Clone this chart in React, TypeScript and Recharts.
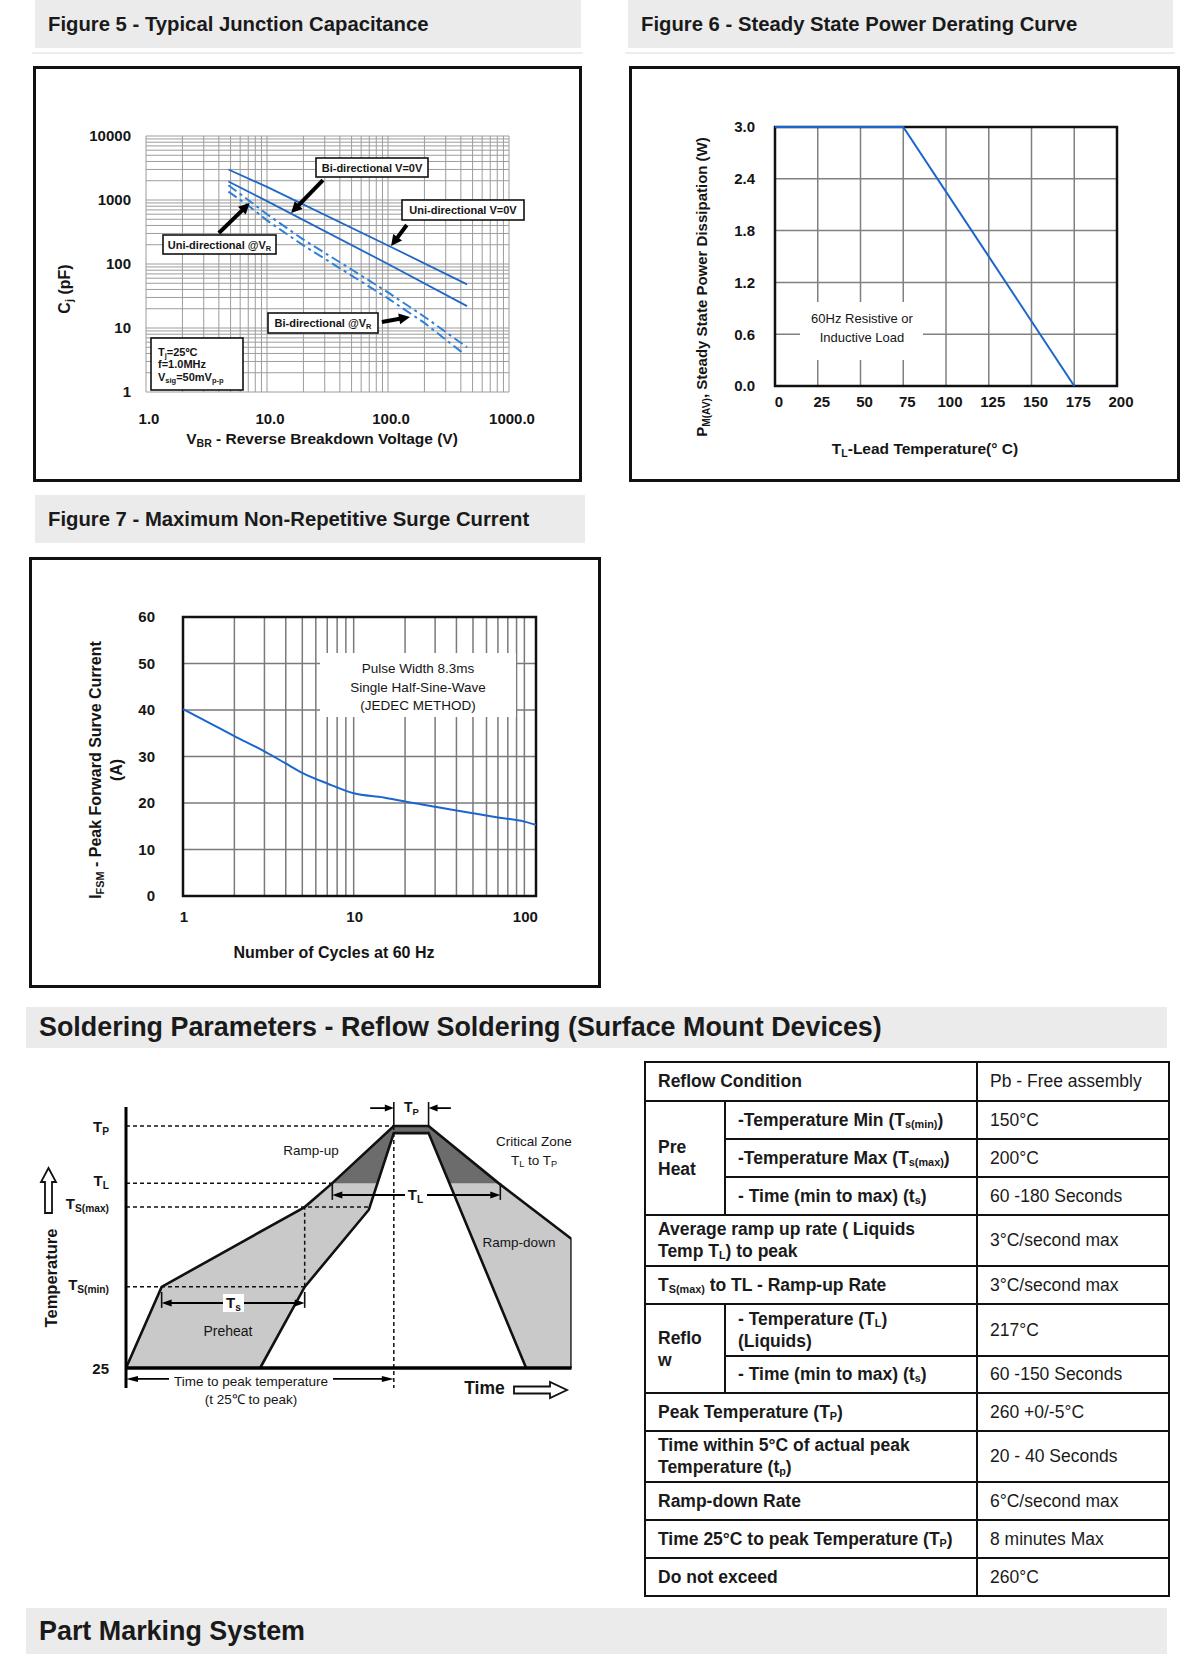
import React from 'react';
import {
  LineChart, Line, XAxis, YAxis, CartesianGrid, ReferenceLine, ReferenceArea,
  ComposedChart, Area,
} from 'recharts';

const FONT = '"Liberation Sans", Arial, Helvetica, sans-serif';
const INK = '#151515';

/* ---------------- Figure 5 : junction capacitance (log-log) ---------------- */
const fig5XTicks = [1, 2, 3, 4, 5, 6, 7, 8, 9, 10, 20, 30, 40, 50, 60, 70, 80, 90, 100, 200, 300, 400, 500, 600, 700, 800, 900, 1000];
const fig5XLabels: Record<number, string> = { 1: '1.0', 10: '10.0', 100: '100.0', 1000: '1000.0' };
const fig5YTicks = [1, 2, 3, 4, 5, 6, 7, 8, 9, 10, 20, 30, 40, 50, 60, 70, 80, 90, 100, 200, 300, 400, 500, 600, 700, 800, 900, 1000, 2000, 3000, 4000, 5000, 6000, 7000, 8000, 9000, 10000];
const fig5YLabels: Record<number, string> = { 1: '1', 10: '10', 100: '100', 1000: '1000', 10000: '10000' };
const uniZeroV = [{ v: 4.8, c: 3000 }, { v: 10, c: 1600 }, { v: 100, c: 195 }, { v: 450, c: 48 }];
const biZeroV = [{ v: 4.8, c: 1950 }, { v: 10, c: 960 }, { v: 100, c: 100 }, { v: 450, c: 22 }];
const uniAtVR = [{ v: 4.8, c: 1700 }, { v: 7, c: 1000 }, { v: 10, c: 600 }, { v: 20, c: 240 }, { v: 50, c: 82 }, { v: 100, c: 36 }, { v: 200, c: 15 }, { v: 450, c: 5 }];
const biAtVR = [{ v: 4.8, c: 1350 }, { v: 7, c: 820 }, { v: 10, c: 480 }, { v: 20, c: 195 }, { v: 50, c: 66 }, { v: 100, c: 29 }, { v: 200, c: 12 }, { v: 420, c: 4 }];
const fig5Arrows = [
  { from: { x: 29, y: 2050 }, to: { x: 15.8, y: 626 } },
  { from: { x: 143, y: 407 }, to: { x: 106, y: 191 } },
  { from: { x: 4.0, y: 305 }, to: { x: 7.2, y: 898 } },
  { from: { x: 89, y: 12.4 }, to: { x: 152, y: 14.9 } },
];

/* ---------------- Figure 6 : power derating ---------------- */
const fig6Temp = [0, 75, 175];
const fig6Power = [3.0, 3.0, 0];
const fig6XTicks = [0, 25, 50, 75, 100, 125, 150, 175, 200];
const fig6YTicks = [0, 0.6, 1.2, 1.8, 2.4, 3.0];
const fig6Data = fig6Temp.map((t, i) => ({ temp: t, power: fig6Power[i] }));

/* ---------------- Figure 7 : surge current ---------------- */
const fig7Cycles = [1, 1.5, 2, 3, 4, 5, 7, 10, 15, 20, 30, 50, 70, 100, 117];
const fig7Ifsm = [40.2, 36.8, 34.4, 31.1, 28.5, 26.5, 24.2, 22.1, 21.2, 20.3, 19.2, 17.8, 16.9, 16.0, 15.3];
const fig7XTicks = [1, 2, 3, 4, 5, 6, 7, 8, 9, 10, 20, 30, 40, 50, 60, 70, 80, 90, 100];
const fig7XLabels: Record<number, string> = { 1: '1', 10: '10', 100: '100' };
const fig7YTicks = [0, 10, 20, 30, 40, 50, 60];
const fig7Data = fig7Cycles.map((c, i) => ({ n: c, a: fig7Ifsm[i] }));

/* ---------------- Reflow profile (schematic units: time 0-100, level 0-100) ---------------- */
const LV_TP = 91;
const LV_TL = 69.5;
const LV_TSMAX = 60.5;
const LV_TSMIN = 30.5;
const outerProfile = [
  { t: 0, y: 0 }, { t: 8, y: LV_TSMIN }, { t: 40.1, y: LV_TSMAX }, { t: 46.3, y: LV_TL },
  { t: 60.1, y: LV_TP }, { t: 67.9, y: LV_TP }, { t: 83.6, y: LV_TL }, { t: 100, y: 48.5 }, { t: 100, y: 0 },
];
const innerProfile = [
  { t: 30.1, y: 0 }, { t: 40.1, y: LV_TSMIN }, { t: 54.5, y: 59.5 }, { t: 60.1, y: 88.3 },
  { t: 67.9, y: 88.3 }, { t: 89.8, y: 0 },
];
const criticalZone = [
  { t: 46.3, y: LV_TL }, { t: 60.1, y: LV_TP }, { t: 67.9, y: LV_TP }, { t: 83.6, y: LV_TL },
];
const dashedLevels = [
  [{ x: 0, y: LV_TP }, { x: 60.1, y: LV_TP }],
  [{ x: 0, y: LV_TL }, { x: 46.3, y: LV_TL }],
  [{ x: 0, y: LV_TSMAX }, { x: 54.6, y: LV_TSMAX }],
  [{ x: 0, y: LV_TSMIN }, { x: 40.1, y: LV_TSMIN }],
  [{ x: 40.1, y: LV_TSMIN }, { x: 40.1, y: LV_TSMAX }],
  [{ x: 60.1, y: LV_TP }, { x: 60.1, y: -7.5 }],
];
const endTicks = [
  [{ x: 8, y: 22.6 }, { x: 8, y: 28.6 }],
  [{ x: 40.1, y: 22.6 }, { x: 40.1, y: 28.6 }],
  [{ x: 46.3, y: 63.2 }, { x: 46.3, y: LV_TL }],
  [{ x: 84, y: 63.2 }, { x: 84, y: LV_TL }],
  [{ x: 60.1, y: LV_TP }, { x: 60.1, y: 100 }],
  [{ x: 67.9, y: LV_TP }, { x: 67.9, y: 100 }],
];

/* ---------------- Table ---------------- */
type Cell = { html: React.ReactNode; bold?: boolean; colSpan?: number; rowSpan?: number };
const S = (s: string) => <sub style={{ fontSize: '0.62em', verticalAlign: '-0.2em', lineHeight: 0 }}>{s}</sub>;
const tableRows: Cell[][] = [
  [{ html: 'Reflow Condition', bold: true, colSpan: 2 }, { html: 'Pb - Free assembly' }],
  [{ html: <>Pre<br />Heat</>, bold: true, rowSpan: 3 }, { html: <>-Temperature Min (T{S('s(min)')})</>, bold: true }, { html: '150°C' }],
  [{ html: <>-Temperature Max (T{S('s(max)')})</>, bold: true }, { html: '200°C' }],
  [{ html: <>- Time (min to max) (t{S('s')})</>, bold: true }, { html: '60 -180 Seconds' }],
  [{ html: <>Average ramp up rate ( Liquids<br />Temp T{S('L')}) to peak</>, bold: true, colSpan: 2 }, { html: '3°C/second max' }],
  [{ html: <>T{S('S(max)')} to TL - Ramp-up Rate</>, bold: true, colSpan: 2 }, { html: '3°C/second max' }],
  [{ html: <>Reflo<br />w</>, bold: true, rowSpan: 2 }, { html: <>- Temperature (T{S('L')})<br />(Liquids)</>, bold: true }, { html: '217°C' }],
  [{ html: <>- Time (min to max) (t{S('s')})</>, bold: true }, { html: '60 -150 Seconds' }],
  [{ html: <>Peak Temperature (T{S('P')})</>, bold: true, colSpan: 2 }, { html: '260 +0/-5°C' }],
  [{ html: <>Time within 5°C of actual peak<br />Temperature (t{S('p')})</>, bold: true, colSpan: 2 }, { html: '20 - 40 Seconds' }],
  [{ html: 'Ramp-down Rate', bold: true, colSpan: 2 }, { html: '6°C/second max' }],
  [{ html: <>Time 25°C to peak Temperature (T{S('P')})</>, bold: true, colSpan: 2 }, { html: '8 minutes Max' }],
  [{ html: 'Do not exceed', bold: true, colSpan: 2 }, { html: '260°C' }],
];
const ROW_H = [38.5, 38, 38, 38, 51.5, 38, 51.5, 37.5, 37.5, 51.5, 37.5, 38, 38.5];

/* ---------------- helpers ---------------- */
function arrowShape(o: { start?: boolean; end?: boolean; w?: number; hl?: number; hw?: number; color?: string }) {
  const { start = false, end = true, w = 2, hl = 10, hw = 8, color = '#000' } = o;
  return (p: any) => {
    const x1 = +p.x1, y1 = +p.y1, x2 = +p.x2, y2 = +p.y2;
    const dx = x2 - x1, dy = y2 - y1;
    const L = Math.hypot(dx, dy) || 1;
    const ux = dx / L, uy = dy / L, nx = -uy, ny = ux;
    const head = (tx: number, ty: number, ex: number, ey: number) => {
      const bx = tx - ex * hl, by = ty - ey * hl;
      return `${tx},${ty} ${bx + nx * hw / 2},${by + ny * hw / 2} ${bx - nx * hw / 2},${by - ny * hw / 2}`;
    };
    const sx = start ? x1 + ux * hl * 0.7 : x1, sy = start ? y1 + uy * hl * 0.7 : y1;
    const ex = end ? x2 - ux * hl * 0.7 : x2, ey = end ? y2 - uy * hl * 0.7 : y2;
    return (
      <g>
        <line x1={sx} y1={sy} x2={ex} y2={ey} stroke={color} strokeWidth={w} />
        {end && <polygon points={head(x2, y2, ux, uy)} fill={color} />}
        {start && <polygon points={head(x1, y1, -ux, -uy)} fill={color} />}
      </g>
    );
  };
}

type Part = string | { sub: string };
function RT(props: { x: number; y: number; size: number; bold?: boolean; anchor?: string; rotate?: number; parts: Part[]; fill?: string }) {
  const { x, y, size, bold, anchor = 'middle', rotate, parts, fill = INK } = props;
  const subSize = size * 0.68;
  const shift = size * 0.3;
  let lowered = false;
  const kids = parts.map((p, i) => {
    if (typeof p === 'string') {
      const dy = lowered ? -shift : 0;
      lowered = false;
      return <tspan key={i} fontSize={size} dy={dy}>{p}</tspan>;
    }
    const dy = lowered ? 0 : shift;
    lowered = true;
    return <tspan key={i} fontSize={subSize} dy={dy}>{p.sub}</tspan>;
  });
  return (
    <text x={x} y={y} fontSize={size} fontWeight={bold ? 'bold' : 'normal'} textAnchor={anchor as any}
      dominantBaseline="central" fill={fill} fontFamily={FONT}
      transform={rotate ? `rotate(${rotate} ${x} ${y})` : undefined}>{kids}</text>
  );
}

function Header(p: { left: number; top: number; width: number; height: number; size: number; pad: number; text: string }) {
  return (
    <div style={{
      position: 'absolute', left: p.left, top: p.top, width: p.width, height: p.height, background: '#ebebeb',
      boxSizing: 'border-box', paddingLeft: p.pad, display: 'flex', alignItems: 'center', fontFamily: FONT,
      fontWeight: 'bold', fontSize: p.size, color: '#1a1a1a', whiteSpace: 'nowrap',
    }}>{p.text}</div>
  );
}

const tickStyle = (size: number, dx = 0) => ({ fontSize: size, fontWeight: 700, fill: INK, fontFamily: FONT, dx });

function Box(p: { left: number; top: number; width: number; height: number; bw: number }) {
  return <div style={{ position: 'absolute', left: p.left, top: p.top, width: p.width, height: p.height, border: `${p.bw}px solid #111`, boxSizing: 'border-box' }} />;
}

function LabelBox(p: { x: number; y: number; w: number; h: number; parts: Part[] }) {
  return (
    <g>
      <rect x={p.x} y={p.y} width={p.w} height={p.h} fill="#fff" stroke="#111" strokeWidth={1.6} />
      <RT x={p.x + p.w / 2} y={p.y + p.h / 2} size={11} bold parts={p.parts} />
    </g>
  );
}

export default function App() {
  return (
    <div style={{ position: 'absolute', left: 0, top: 0, width: 1200, height: 1675, background: '#fff', fontFamily: FONT }}>
      {/* headers */}
      <Header left={35} top={0} width={546} height={48} size={20.3} pad={13} text="Figure 5 - Typical Junction Capacitance" />
      <div style={{ position: 'absolute', left: 32, top: 52, width: 551, height: 2, background: '#ededed' }} />
      <Header left={628} top={0} width={545} height={48} size={20.3} pad={13} text="Figure 6 - Steady State Power Derating Curve" />
      <div style={{ position: 'absolute', left: 625, top: 52, width: 550, height: 2, background: '#ededed' }} />
      <Header left={35} top={495} width={550} height={48} size={20.3} pad={13} text="Figure 7 - Maximum Non-Repetitive Surge Current" />
      <Header left={26} top={1007} width={1141} height={41} size={26.9} pad={13} text="Soldering Parameters - Reflow Soldering (Surface Mount Devices)" />
      <Header left={26} top={1608} width={1141} height={46} size={26.9} pad={13} text="Part Marking System" />

      {/* frames */}
      <Box left={33} top={66} width={549} height={416} bw={3} />
      <Box left={629} top={66} width={551} height={416} bw={3} />
      <Box left={29} top={557} width={572} height={431} bw={3.5} />

      {/* Figure 5 */}
      <div style={{ position: 'absolute', left: 33, top: 66 }}>
        <LineChart width={549} height={416} margin={{ top: 70, right: 73, bottom: 60, left: 0 }}>
          <CartesianGrid stroke="#9c9c9c" strokeWidth={1} />
          <XAxis dataKey="v" type="number" scale="log" domain={[1, 1000]} ticks={fig5XTicks} interval={0}
            tickFormatter={(v: number) => fig5XLabels[v] ?? ''} tickLine={false} axisLine={false} tickSize={0}
            tickMargin={21} height={30} tick={tickStyle(15, 3)} allowDataOverflow />
          <YAxis type="number" scale="log" domain={[1, 10000]} ticks={fig5YTicks} interval={0}
            tickFormatter={(v: number) => fig5YLabels[v] ?? ''} tickLine={false} axisLine={false} tickSize={0}
            tickMargin={15} width={113} tick={tickStyle(15)} allowDataOverflow />
          <Line data={uniZeroV} dataKey="c" type="linear" stroke="#2067c6" strokeWidth={1.8} dot={false} isAnimationActive={false} />
          <Line data={biZeroV} dataKey="c" type="linear" stroke="#2067c6" strokeWidth={1.8} dot={false} isAnimationActive={false} />
          <Line data={uniAtVR} dataKey="c" type="linear" stroke="#2f80d8" strokeWidth={2} strokeDasharray="10 4 3 4" dot={false} isAnimationActive={false} />
          <Line data={biAtVR} dataKey="c" type="linear" stroke="#2f80d8" strokeWidth={2} strokeDasharray="10 4 3 4" dot={false} isAnimationActive={false} />
          {fig5Arrows.map((a, i) => (
            <ReferenceLine key={i} segment={[a.from, a.to]} ifOverflow="visible"
              shape={arrowShape({ end: true, w: 4, hl: 11, hw: 11 })} />
          ))}
        </LineChart>
      </div>

      {/* Figure 6 */}
      <div style={{ position: 'absolute', left: 629, top: 66 }}>
        <LineChart width={551} height={416} data={fig6Data} margin={{ top: 61, right: 63, bottom: 66, left: 0 }}>
          <CartesianGrid stroke="#808080" strokeWidth={1.5} />
          <XAxis dataKey="temp" type="number" domain={[0, 200]} ticks={fig6XTicks} interval={0} tickLine={false}
            axisLine={false} tickSize={0} tickMargin={10} height={30} tick={tickStyle(15, 4)} />
          <YAxis type="number" domain={[0, 3]} ticks={fig6YTicks} interval={0} tickFormatter={(v: number) => v.toFixed(1)}
            tickLine={false} axisLine={false} tickSize={0} tickMargin={20} width={146} tick={tickStyle(15)} />
          <ReferenceArea x1={0} x2={200} y1={0} y2={3} fill="none" fillOpacity={0} stroke="#111" strokeWidth={2.5} ifOverflow="visible" />
          <Line dataKey="power" type="linear" stroke="#1b66cc" strokeWidth={2} dot={false} isAnimationActive={false} />
        </LineChart>
      </div>

      {/* Figure 7 */}
      <div style={{ position: 'absolute', left: 29, top: 557 }}>
        <LineChart width={572} height={431} data={fig7Data} margin={{ top: 60, right: 65, bottom: 62, left: 0 }}>
          <CartesianGrid stroke="#7a7a7a" strokeWidth={1.5} />
          <XAxis dataKey="n" type="number" scale="log" domain={[1, 117]} ticks={fig7XTicks} interval={0}
            tickFormatter={(v: number) => fig7XLabels[v] ?? ''} tickLine={false} axisLine={false} tickSize={0}
            tickMargin={15} height={30} tick={tickStyle(15, 1)} allowDataOverflow />
          <YAxis type="number" domain={[0, 60]} ticks={fig7YTicks} interval={0} tickLine={false} axisLine={false}
            tickSize={0} tickMargin={28} width={154} tick={tickStyle(15)} />
          <ReferenceArea x1={1} x2={117} y1={0} y2={60} fill="none" fillOpacity={0} stroke="#111" strokeWidth={2.5} ifOverflow="visible" />
          <Line dataKey="a" type="monotone" stroke="#1a66d0" strokeWidth={2} dot={false} isAnimationActive={false} />
        </LineChart>
      </div>

      {/* Reflow profile */}
      <div style={{ position: 'absolute', left: 26, top: 1060 }}>
        <ComposedChart width={580} height={360} margin={{ top: 42, right: 34.4, bottom: 25.4, left: 100 }}>
          <XAxis dataKey="t" type="number" domain={[0, 100]} hide allowDataOverflow />
          <YAxis type="number" domain={[-10, 100]} hide allowDataOverflow />
          <Area data={outerProfile} dataKey="y" type="linear" baseValue={0} fill="#c9c9c9" fillOpacity={1} stroke="none" isAnimationActive={false} />
          <Area data={criticalZone} dataKey="y" type="linear" baseValue={LV_TL} fill="#6c6c6c" fillOpacity={1} stroke="none" isAnimationActive={false} />
          <Area data={innerProfile} dataKey="y" type="linear" baseValue={0} fill="#ffffff" fillOpacity={1} stroke="none" isAnimationActive={false} />
          <Line data={outerProfile} dataKey="y" type="linear" stroke="#111" strokeWidth={2.6} dot={false} isAnimationActive={false} />
          <Line data={innerProfile} dataKey="y" type="linear" stroke="#111" strokeWidth={2.6} dot={false} isAnimationActive={false} />
          {dashedLevels.map((s, i) => (
            <ReferenceLine key={'d' + i} segment={s} stroke="#111" strokeWidth={1.5} strokeDasharray="4 3" ifOverflow="visible" />
          ))}
          {endTicks.map((s, i) => (
            <ReferenceLine key={'e' + i} segment={s} stroke="#111" strokeWidth={1.6} ifOverflow="visible" />
          ))}
          <ReferenceLine segment={[{ x: 0, y: -7.5 }, { x: 0, y: 98.1 }]} stroke="#000" strokeWidth={3} ifOverflow="visible" />
          <ReferenceLine segment={[{ x: 0, y: 0 }, { x: 100, y: 0 }]} stroke="#000" strokeWidth={3.5} ifOverflow="visible" />
          <ReferenceLine segment={[{ x: 8, y: 24.4 }, { x: 40.1, y: 24.4 }]} ifOverflow="visible" shape={arrowShape({ start: true, end: true, w: 2, hl: 10, hw: 7 })} />
          <ReferenceLine segment={[{ x: 46.3, y: 65 }, { x: 84, y: 65 }]} ifOverflow="visible" shape={arrowShape({ start: true, end: true, w: 2, hl: 10, hw: 7 })} />
          <ReferenceLine segment={[{ x: 54.8, y: 97.7 }, { x: 60.1, y: 97.7 }]} ifOverflow="visible" shape={arrowShape({ end: true, w: 1.8, hl: 9, hw: 7 })} />
          <ReferenceLine segment={[{ x: 72.9, y: 97.7 }, { x: 67.9, y: 97.7 }]} ifOverflow="visible" shape={arrowShape({ end: true, w: 1.8, hl: 9, hw: 7 })} />
          <ReferenceLine segment={[{ x: 0, y: -4.1 }, { x: 60.1, y: -4.1 }]} ifOverflow="visible" shape={arrowShape({ start: true, end: true, w: 1.8, hl: 12, hw: 6 })} />
        </ComposedChart>
      </div>

      {/* overlay texts & annotations */}
      <svg width={1200} height={1675} style={{ position: 'absolute', left: 0, top: 0, pointerEvents: 'none' }}>
        {/* Figure 5 */}
        <RT x={64} y={289} size={16} bold rotate={-90} parts={['C', { sub: 'j' }, ' (pF)']} />
        <RT x={322} y={438} size={15.5} bold parts={['V', { sub: 'BR' }, ' - Reverse Breakdown Voltage (V)']} />
        <LabelBox x={316} y={158} w={112} h={19} parts={['Bi-directional V=0V']} />
        <LabelBox x={402} y={200} w={122} h={20} parts={['Uni-directional V=0V']} />
        <LabelBox x={163} y={235} w={113} h={19} parts={['Uni-directional @V', { sub: 'R' }]} />
        <LabelBox x={268} y={313} w={110} h={20} parts={['Bi-directional @V', { sub: 'R' }]} />
        <rect x={151} y={338} width={92} height={52} fill="#fff" stroke="#111" strokeWidth={1.6} />
        <RT x={158} y={352} size={11} bold anchor="start" parts={['T', { sub: 'j' }, '=25ºC']} />
        <RT x={158} y={364} size={11} bold anchor="start" parts={['f=1.0MHz']} />
        <RT x={158} y={377} size={11} bold anchor="start" parts={['V', { sub: 'sig' }, '=50mV', { sub: 'p-p' }]} />

        {/* Figure 6 */}
        <RT x={701} y={287} size={15} bold rotate={-90} parts={['P', { sub: 'M(AV)' }, ', Steady State Power Dissipation (W)']} />
        <RT x={925} y={448} size={15.5} bold parts={['T', { sub: 'L' }, '-Lead Temperature(° C)']} />
        <rect x={800} y={302} width={123} height={58} fill="#fff" />
        <RT x={862} y={318} size={13} parts={['60Hz Resistive or']} />
        <RT x={862} y={337} size={13} parts={['Inductive Load']} />

        {/* Figure 7 */}
        <RT x={95} y={770} size={16} bold rotate={-90} parts={['I', { sub: 'FSM' }, ' - Peak Forward Surve Current']} />
        <RT x={116} y={770} size={16} bold rotate={-90} parts={['(A)']} />
        <RT x={334} y={952} size={16} bold parts={['Number of Cycles at 60 Hz']} />
        <rect x={320} y={653} width={196} height={64} fill="#fff" />
        <RT x={418} y={668} size={13.5} parts={['Pulse Width 8.3ms']} />
        <RT x={418} y={687} size={13.5} parts={['Single Half-Sine-Wave']} />
        <RT x={418} y={705} size={13.5} parts={['(JEDEC METHOD)']} />

        {/* Reflow diagram */}
        <RT x={109} y={1126} size={15} bold anchor="end" parts={['T', { sub: 'P' }]} />
        <RT x={109} y={1180} size={15} bold anchor="end" parts={['T', { sub: 'L' }]} />
        <RT x={109} y={1203} size={15} bold anchor="end" parts={['T', { sub: 'S(max)' }]} />
        <RT x={109} y={1284} size={15} bold anchor="end" parts={['T', { sub: 'S(min)' }]} />
        <RT x={109} y={1368} size={15} bold anchor="end" parts={['25']} />
        <RT x={311} y={1150} size={13.5} parts={['Ramp-up']} />
        <RT x={534} y={1141} size={13.5} parts={['Critical Zone']} />
        <RT x={534} y={1160} size={13.5} parts={['T', { sub: 'L' }, ' to T', { sub: 'P' }]} />
        <RT x={519} y={1242} size={13.5} parts={['Ramp-down']} />
        <RT x={228} y={1331} size={14} parts={['Preheat']} />
        <rect x={223} y={1294} width={21} height={18} fill="#fff" />
        <RT x={233.5} y={1302} size={15} bold parts={['T', { sub: 's' }]} />
        <rect x={405} y={1187} width={22} height={17} fill="#fff" />
        <RT x={415.5} y={1194} size={15} bold parts={['T', { sub: 'L' }]} />
        <rect x={402} y={1100} width={20} height={16} fill="#fff" />
        <RT x={411.5} y={1107} size={14} bold parts={['T', { sub: 'P' }]} />
        <rect x={169} y={1372} width={164} height={17} fill="#fff" />
        <RT x={251} y={1381} size={13.5} parts={['Time to peak temperature']} />
        <RT x={251} y={1399} size={13.5} parts={['(t 25℃ to peak)']} />
        <RT x={484.5} y={1388} size={17.5} bold parts={['Time']} />
        <polygon points="514,1386.5 550,1386.5 550,1382 567,1390 550,1398 550,1393.5 514,1393.5" fill="#fff" stroke="#111" strokeWidth={1.8} />
        <RT x={51} y={1278} size={16.5} bold rotate={-90} parts={['Temperature']} />
        <polygon points="45,1213 45,1182 41,1182 48.5,1168 56,1182 52,1182 52,1213" fill="#fff" stroke="#111" strokeWidth={1.8} />
      </svg>

      {/* Table */}
      <table style={{
        position: 'absolute', left: 644, top: 1061, width: 524, height: 534, borderCollapse: 'collapse',
        tableLayout: 'fixed', fontFamily: FONT, fontSize: 17.5, color: '#1a1a1a',
      }}>
        <colgroup>
          <col style={{ width: 80 }} />
          <col style={{ width: 252 }} />
          <col style={{ width: 192 }} />
        </colgroup>
        <tbody>
          {tableRows.map((row, ri) => (
            <tr key={ri} style={{ height: ROW_H[ri] }}>
              {row.map((c, ci) => (
                <td key={ci} colSpan={c.colSpan} rowSpan={c.rowSpan} style={{
                  border: '2px solid #111', padding: '0 0 0 12px', fontWeight: c.bold ? 'bold' : 'normal',
                  lineHeight: '22px', verticalAlign: 'middle', whiteSpace: 'nowrap', overflow: 'visible',
                }}>{c.html}</td>
              ))}
            </tr>
          ))}
        </tbody>
      </table>
    </div>
  );
}
